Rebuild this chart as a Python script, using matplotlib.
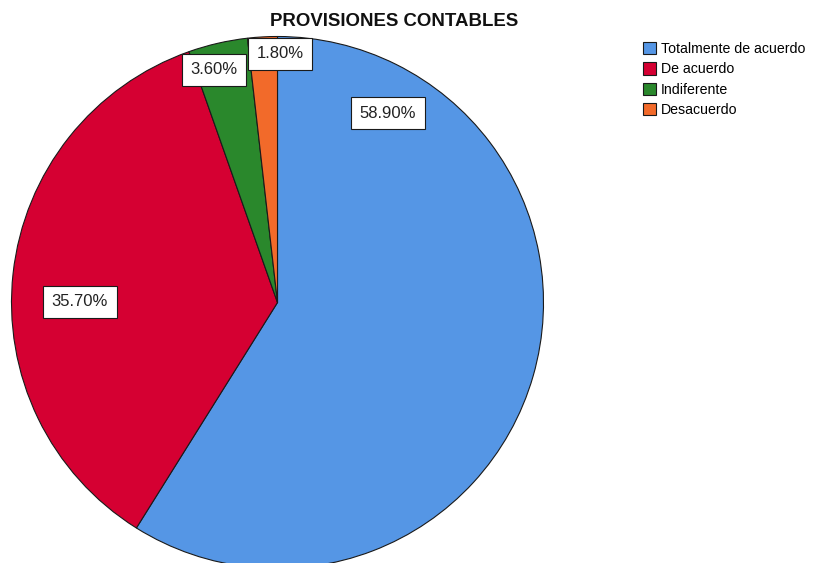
import matplotlib
matplotlib.use('Agg')
import matplotlib.pyplot as plt
from matplotlib.patches import Patch

plt.rcParams['font.family'] = ['Liberation Sans', 'DejaVu Sans']

categories = ['Totalmente de acuerdo', 'De acuerdo', 'Indiferente', 'Desacuerdo']
percentages = [58.9, 35.7, 3.6, 1.8]
colors = ['#5596E5', '#D50032', '#2A882C', '#F26A2A']

# label box centres, in figure pixels (x, y from top)
label_pos = [(388, 113), (80, 302), (214, 70), (280, 54)]

W, H = 814, 563
fig = plt.figure(figsize=(W / 100, H / 100), dpi=100)
ax = fig.add_axes([0, 0, 1, 1])

cx, cy, r = 277.5, H - 302.5, 266
wedges, _ = ax.pie(percentages, colors=colors, startangle=90, counterclock=False,
                   center=(cx, cy), radius=r, frame=True,
                   wedgeprops=dict(edgecolor='#1a1a1a', linewidth=0.8))
ax.set_xlim(0, W)
ax.set_ylim(0, H)
ax.axis('off')

for v, (x, y) in zip(percentages, label_pos):
    ax.text(x, H - y, f'{v:.2f}%', ha='center', va='center', fontsize=12, color='#222222',
            bbox=dict(boxstyle='square,pad=0.5', facecolor='white', edgecolor='#1a1a1a', linewidth=0.8))

fig.text(394 / W, 1 - 22 / H, 'PROVISIONES CONTABLES', ha='center', va='center',
         fontsize=13.4, fontweight='bold', color='#111111')

handles = [Patch(facecolor=c, edgecolor='#1a1a1a', linewidth=0.8) for c in colors]
fig.legend(handles, categories, loc='upper left', bbox_to_anchor=(643 / W, 1 - 42 / H),
           frameon=False, fontsize=10.2, handlelength=0.95, handleheight=0.95,
           handletextpad=0.3, labelspacing=0.45, borderaxespad=0, borderpad=0)

fig.savefig('out.png', dpi=100)
